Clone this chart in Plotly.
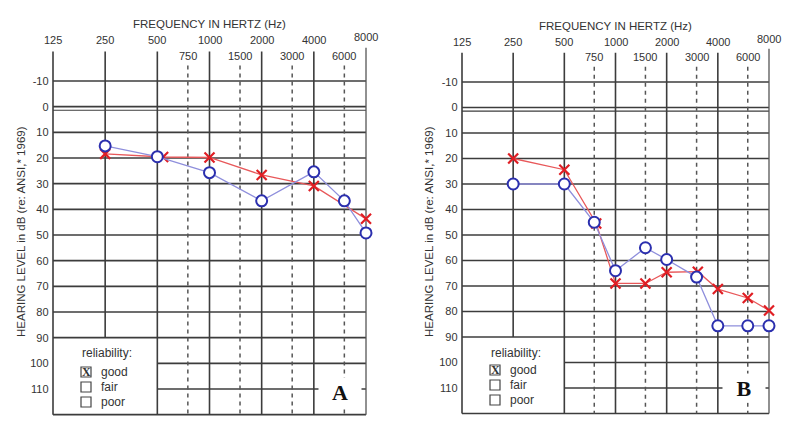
import numpy as np
import plotly.graph_objects as go

# ---------------- data ----------------
freq_main = [125, 250, 500, 1000, 2000, 4000, 8000]
freq_mid = [750, 1500, 3000, 6000]
db_ticks = list(range(-10, 111, 10))

a_o_freq = [250, 500, 1000, 2000, 4000, 6000, 8000]
a_o_db = [15.3, 19.5, 25.7, 36.7, 25.4, 36.7, 49.2]
a_x_freq = [250, 540, 1000, 2000, 4000, 8000]
a_x_db = [18.4, 19.6, 19.8, 26.6, 30.9, 43.7]

b_o_freq = [250, 500, 750, 1000, 1500, 2000, 3000, 4000, 6000, 8000]
b_o_db = [30, 30, 45, 64, 55, 59.6, 66.5, 85.6, 85.6, 85.6]
b_x_freq = [250, 500, 770, 1000, 1500, 2000, 3050, 4000, 6000, 8000]
b_x_db = [20, 24.4, 45.5, 69, 69, 64.6, 64.4, 71.2, 74.7, 79.6]

reliability = ["good", "fair", "poor"]
panel_letters = ["A", "B"]

W, H = 800, 437
FONT = "Liberation Sans, Arial, sans-serif"
SERIF = "Liberation Serif, Times New Roman, serif"
GRID = "#3c3c3c"
TXT = "#333333"


def px(x):
    return x / W


def py(y):
    return 1 - y / H


def ann(text, x, y, xref="paper", size=11.5, family=FONT, color=TXT, xanchor="center", **kw):
    d = dict(text=text, xref=xref, x=x, yref="paper", y=y, showarrow=False,
             xanchor=xanchor, yanchor="middle",
             font=dict(family=family, size=size, color=color))
    d.update(kw)
    return d


fig = go.Figure()

panels = [
    dict(x125=53, x8000=366, ym10=81, y110=389, xs="x", ys="y", an="", letter_xy=(340, 392), ylab_x=21),
    dict(x125=462, x8000=769, ym10=82, y110=388, xs="x2", ys="y2", an="2", letter_xy=(744, 388), ylab_x=429),
]
datasets = [
    (a_o_freq, a_o_db, a_x_freq, a_x_db),
    (b_o_freq, b_o_db, b_x_freq, b_x_db),
]

shapes = []
annotations = []
layout_axes = {}
PAD = 0.02
YR = (-24, 122)

for i, p in enumerate(panels):
    dec = np.log10(8000 / 125)
    ppd = (p["x8000"] - p["x125"]) / dec
    xl = p["x125"] - PAD * ppd
    xr = p["x8000"] + PAD * ppd
    ppdb = (p["y110"] - p["ym10"]) / 120.0
    yt = p["ym10"] - (-10 - YR[0]) * ppdb
    yb = p["ym10"] + (YR[1] + 10) * ppdb
    layout_axes["xaxis" + p["an"]] = dict(
        type="log", domain=[px(xl), px(xr)],
        range=[np.log10(125) - PAD, np.log10(8000) + PAD],
        showgrid=False, zeroline=False, showline=False, showticklabels=False,
        anchor=p["ys"], fixedrange=True,
    )
    layout_axes["yaxis" + p["an"]] = dict(
        domain=[py(yb), py(yt)], range=[YR[1], YR[0]],
        showgrid=False, zeroline=False, showline=False,
        tickvals=db_ticks, ticktext=[str(v) for v in db_ticks],
        ticks="", tickfont=dict(family=FONT, size=11, color=TXT),
        anchor=p["xs"], fixedrange=True,
    )
    xs, ys = p["xs"], p["ys"]

    def hline(y, f0, f1, w=1.6):
        shapes.append(dict(type="line", xref=xs, yref=ys, x0=f0, x1=f1, y0=y, y1=y,
                           line=dict(color=GRID, width=w), layer="below"))

    def vline(f, y0, y1, dash="solid", w=1.6, color=GRID):
        shapes.append(dict(type="line", xref=xs, yref=ys, x0=f, x1=f, y0=y0, y1=y1,
                           line=dict(color=color, width=w, dash=dash), layer="below"))

    for v in db_ticks:
        if v in (100, 110):
            hline(v, 500, 8000)
        else:
            hline(v, 125, 8000)
    hline(1.4, 125, 8000, 1.2)
    hline(120, 125, 8000)
    for f in freq_main:
        if f == 250:
            vline(f, -21.5, 90)
        elif f == 8000:
            vline(f, -23, 120, w=1.3, color="#555555")
        else:
            vline(f, -21.5, 120)
    for f in freq_mid:
        vline(f, -16, 120, dash="4px,4px", w=1.5, color="#555555")

    # frequency labels
    for f in freq_main:
        ylab = 37 if f == 8000 else 40
        if i == 1:
            ylab += 2
        annotations.append(ann(str(f), np.log10(f), py(ylab), xref=xs, size=11))
    for f in freq_mid:
        annotations.append(ann(str(f), np.log10(f), py(56 + i), xref=xs, size=11))
    xc = (p["x125"] + p["x8000"]) / 2 + 0
    annotations.append(ann("FREQUENCY IN HERTZ (Hz)", px(xc), py(24 + 2 * i), size=11.5))
    annotations.append(ann("HEARING LEVEL in dB (re: ANSI,* 1969)", px(p["ylab_x"]), py(232),
                           size=11.5, textangle=-90))

    # reliability box
    bx = p["x125"] + 28
    annotations.append(ann("reliability:", px(bx - 1), py(353), size=12, xanchor="left"))
    for k, lab in enumerate(reliability):
        cy = 372 + 15 * k - (2 if i == 1 else 0)
        shapes.append(dict(type="rect", xref="paper", yref="paper", x0=px(bx), x1=px(bx + 10),
                           y0=py(cy - 5), y1=py(cy + 5), line=dict(color="#444444", width=1.2)))
        annotations.append(ann(lab, px(bx + 18), py(cy), size=12, xanchor="left"))
        if k == 0:
            annotations.append(ann("<b>X</b>", px(bx + 5), py(cy), size=12, family=SERIF))

    # panel letter
    lx, ly = p["letter_xy"]
    annotations.append(ann("<b>%s</b>" % panel_letters[i], px(lx), py(ly), size=22,
                           family=SERIF, color="#111111", bgcolor="white", width=40, height=26))

    of, od, xf, xd = datasets[i]
    fig.add_trace(go.Scatter(x=xf, y=xd, xaxis=xs, yaxis=ys, mode="lines+markers",
                             line=dict(color="#e8585a", width=1.3), cliponaxis=False,
                             marker=dict(symbol="x-thin", size=10,
                                         line=dict(color="#e01e24", width=2.2)),
                             showlegend=False))
    fig.add_trace(go.Scatter(x=of, y=od, xaxis=xs, yaxis=ys, mode="lines+markers",
                             line=dict(color="#8f8fdc", width=1.3), cliponaxis=False,
                             marker=dict(symbol="circle", size=11, color="white",
                                         line=dict(color="#2b2fae", width=2)),
                             showlegend=False))

fig.update_layout(
    width=W, height=H, margin=dict(l=0, r=0, t=0, b=0),
    paper_bgcolor="white", plot_bgcolor="white",
    shapes=shapes, annotations=annotations, **layout_axes,
)
fig.write_html("out.html", config={"displayModeBar": False},
               post_script="document.body.style.margin='0px';")
